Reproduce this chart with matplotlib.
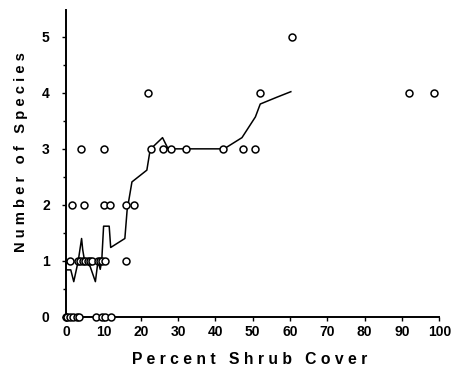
import matplotlib
matplotlib.use("Agg")
import matplotlib.pyplot as plt
from matplotlib.ticker import MultipleLocator

plt.rcParams['font.family'] = ['Liberation Sans', 'DejaVu Sans']

# observed plots: percent shrub cover vs number of species
cover_0 = [0.0, 0.3, 0.9, 1.8, 2.8, 3.5, 7.9, 9.7, 10.3, 11.9]
cover_1 = [0.9, 3.1, 3.7, 4.4, 5.1, 5.7, 6.4, 7.0, 8.4, 9.0, 9.7, 10.3, 15.9]
cover_2 = [1.6, 4.8, 10.0, 11.7, 15.9, 18.1]
cover_3 = [4.0, 10.2, 22.6, 25.8, 28.1, 32.0, 42.1, 47.3, 50.6]
cover_4 = [22.0, 51.9, 92.0, 98.5]
cover_5 = [60.4]

# running mean line
line_x = [0.0, 1.2, 2.0, 3.2, 4.1, 4.4, 4.9, 6.4, 7.8, 8.5, 9.1, 9.5, 10.0,
          11.5, 11.9, 15.7, 16.3, 17.6, 21.6, 22.5, 25.8, 27.3, 42.3, 47.1,
          50.7, 52.0, 56.4, 60.2]
line_y = [0.84, 0.84, 0.63, 1.0, 1.4, 1.2, 1.0, 0.9, 0.63, 1.0, 0.85, 1.0, 1.62,
          1.62, 1.24, 1.4, 1.9, 2.41, 2.62, 2.99, 3.2, 3.0, 3.0, 3.2,
          3.57, 3.8, 3.92, 4.02]

fig = plt.figure(figsize=(4.51, 3.66), dpi=100)
ax = fig.add_axes([0.147, 0.134, 0.827, 0.839])

ax.plot(line_x, line_y, color='black', lw=1.1, zorder=2)

groups = [cover_0, cover_1, cover_2, cover_3, cover_4, cover_5]
for n, xs in enumerate(groups):
    ax.plot(xs, [n] * len(xs), 'o', mfc='white', mec='black', ms=5, mew=1.1,
            clip_on=False, zorder=3)

ax.set_xlim(0, 100)
ax.set_ylim(0, 5.48)
ax.spines['top'].set_visible(False)
ax.spines['right'].set_visible(False)
ax.spines['left'].set_linewidth(1.4)
ax.spines['bottom'].set_linewidth(1.4)
ax.xaxis.set_major_locator(MultipleLocator(10))
ax.yaxis.set_major_locator(MultipleLocator(1))
ax.yaxis.set_minor_locator(MultipleLocator(0.5))
ax.tick_params(axis='x', which='major', length=3, width=1, labelsize=10, pad=3)
ax.tick_params(axis='y', which='major', length=3, width=1, labelsize=10, pad=9)
ax.tick_params(axis='y', which='minor', length=2, width=1)
for lab in ax.get_xticklabels() + ax.get_yticklabels():
    lab.set_fontweight('bold')

# axis titles placed in figure pixels (letter spaced like the original)
fig.text(250 / 451, 1 - 359 / 366, 'P e r c e n t   S h r u b   C o v e r',
         fontsize=11.3, fontweight='bold', ha='center', va='center')
fig.text(21 / 451, 1 - 152 / 366, 'N u m b e r   o f   S p e c i e s',
         fontsize=10.6, fontweight='bold', ha='center', va='center', rotation=90)

fig.savefig('out.png', dpi=100)
